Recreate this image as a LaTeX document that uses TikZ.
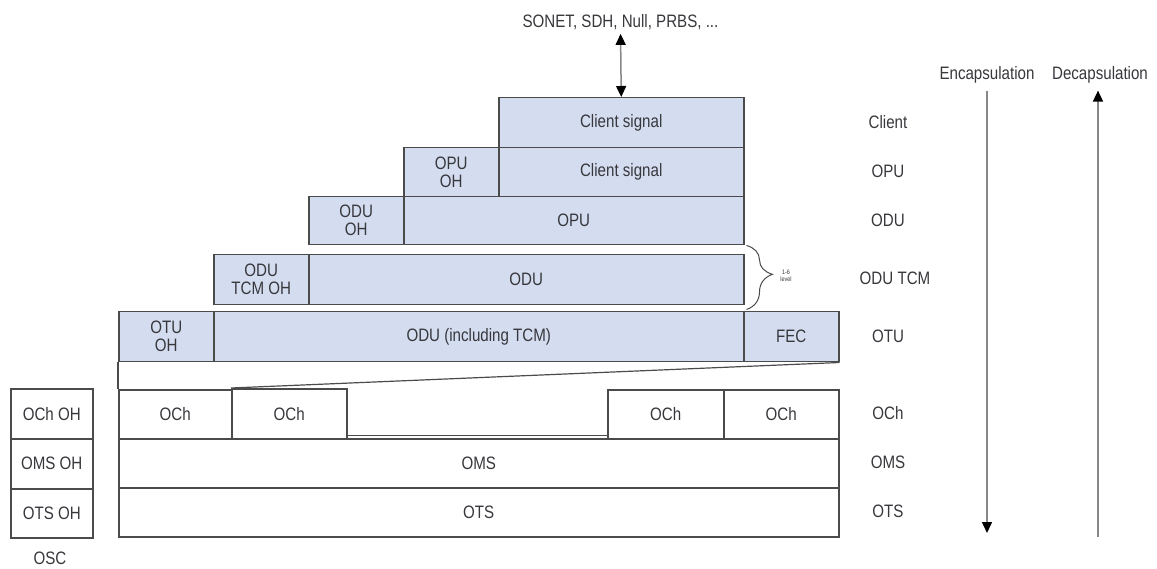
\documentclass[tikz,border=0pt]{standalone}
\usepackage{fontspec}
\setmainfont{Liberation Sans}[FakeStretch=0.84]
\usetikzlibrary{arrows.meta,decorations.pathreplacing}
\definecolor{cellfill}{RGB}{212,221,240}
\definecolor{edge}{RGB}{75,75,75}
\definecolor{ink}{RGB}{55,55,60}
\definecolor{shaft}{RGB}{135,135,135}
\newcommand\cellfont{\fontsize{18}{18}\selectfont}
\newcommand\tinyfont{\fontsize{6.5}{6.5}\selectfont}
\tikzset{
  cell/.style={draw=edge, line width=1.5pt, fill=cellfill, rectangle, inner sep=0pt,
    anchor=north west, align=center, text=ink, font=\cellfont},
  plaincell/.style={cell, fill=white},
  lbl/.style={text=ink, font=\cellfont, inner sep=1pt},
  tip/.style={-{Triangle[width=10pt,length=11pt,color=black]}},
  bitip/.style={{Triangle[width=10pt,length=11pt,color=black]}-{Triangle[width=10pt,length=11pt,color=black]}},
}
\begin{document}
\begin{tikzpicture}[x=1pt,y=-1pt]
\useasboundingbox (0,0) rectangle (1157,569);

% stacked frame structure
\node[cell, minimum width=245, minimum height=50] (client) at (498,97) {Client signal};
\node[cell, minimum width=95, minimum height=49] (opuoh) at (403,147) {OPU\\OH};
\node[cell, minimum width=245, minimum height=49] (opucs) at (498,147) {Client signal};
\node[cell, minimum width=95, minimum height=48] (oduoh) at (308,196) {ODU\\OH};
\node[cell, minimum width=340, minimum height=48] (opu) at (403,196) {OPU};
\node[cell, minimum width=95, minimum height=50] (tcmoh) at (213,254) {ODU\\TCM OH};
\node[cell, minimum width=435, minimum height=50] (tcmodu) at (308,254) {ODU};
\node[cell, minimum width=95, minimum height=50] (otuoh) at (118,311) {OTU\\OH};
\node[cell, minimum width=530, minimum height=50] (otuodu) at (213,311) {ODU (including TCM)};
\node[cell, minimum width=95, minimum height=50] (fec) at (743,311) {FEC};

% optical layers
\node[plaincell, minimum width=720, minimum height=49] (oms) at (118,438) {OMS};
\node[plaincell, minimum width=720, minimum height=49] (ots) at (118,487) {OTS};
\node[plaincell, minimum width=113, minimum height=49] (och1) at (118,389) {OCh};
\node[plaincell, minimum width=115, minimum height=50] (och2) at (231,388) {OCh};
\node[plaincell, minimum width=116, minimum height=49] (och3) at (607,389) {OCh};
\node[plaincell, minimum width=115, minimum height=49] (och4) at (723,389) {OCh};
\draw[edge, line width=1.5pt] ([yshift=4pt]och2.south east) -- ([yshift=4pt]och3.south west);

% overhead carried on the supervisory channel
\node[plaincell, minimum width=82, minimum height=50] (ochoh) at (10,388) {OCh OH};
\node[plaincell, minimum width=82, minimum height=50] (omsoh) at (10,438) {OMS OH};
\node[plaincell, minimum width=82, minimum height=49] (otsoh) at (10,488) {OTS OH};
\node[lbl] (osc) at (50,558) {OSC};

% OTU mapped into one OCh
\draw[edge, line width=1.2pt] (otuoh.south west) -- (och1.north west);
\draw[edge, line width=1.2pt] (fec.south east) -- (och2.north west);

% TCM brace
\draw[edge, line width=1pt, decorate, decoration={brace, amplitude=26pt, aspect=0.45}]
  ([xshift=2pt]opu.south east) -- ([xshift=2pt,yshift=-4pt]tcmodu.south east);
\node[text=ink, font=\tinyfont, align=center, inner sep=0pt] (lvl) at (786,276) {1-6\\level};

% layer names
\node[lbl] (lclient) at (888,122) {Client};
\node[lbl] (lopu) at (888,171) {OPU};
\node[lbl] (lodu) at (888,220) {ODU};
\node[lbl] (ltcm) at (895,278) {ODU TCM};
\node[lbl] (lotu) at (888,336) {OTU};
\node[lbl] (loch) at (888,413) {OCh};
\node[lbl] (loms) at (888,462) {OMS};
\node[lbl] (lots) at (888,511) {OTS};

% client signal input
\node[lbl] (sonet) at (620.5,22) {SONET, SDH, Null, PRBS, ...};
\draw[shaft, line width=1.5pt, bitip, shorten <=3pt] (sonet.south) -- (client.north);

% direction arrows
\node[lbl] (enc) at (987,75) {Encapsulation};
\node[lbl] (dec) at (1100,75) {Decapsulation};
\coordinate (encend) at (987,533);
\coordinate (decstart) at (1098,537);
\draw[shaft, line width=1.5pt, tip, shorten <=6pt] (enc.south) -- (encend);
\draw[shaft, line width=1.5pt, tip, shorten >=6pt] (decstart) -- (decstart |- dec.south);
\end{tikzpicture}
\end{document}
